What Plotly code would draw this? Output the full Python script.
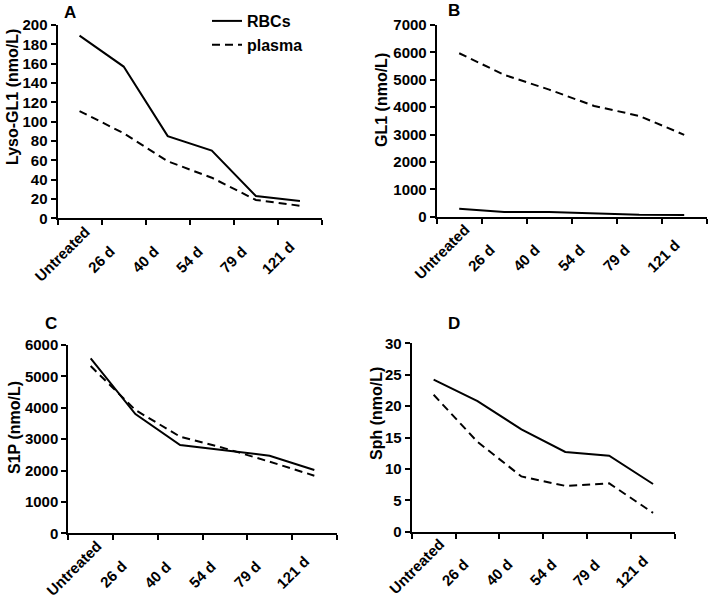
import plotly.graph_objects as go

W, H = 709, 608

categories = ["Untreated", "26 d", "40 d", "54 d", "79 d", "121 d"]

lyso_rbc = [189, 157, 85, 70, 23, 18]
lyso_plasma = [111, 88, 59, 42, 19, 13]

gl1_rbc = [292, 170, 170, 122, 73, 61]
gl1_plasma = [5968, 5180, 4640, 4044, 3680, 2990]

s1p_rbc = [5573, 3800, 2813, 2633, 2473, 2017]
s1p_plasma = [5329, 3928, 3079, 2707, 2282, 1836]

sph_rbc = [24.2, 20.8, 16.3, 12.7, 12.1, 7.6]
sph_plasma = [21.8, 14.3, 8.8, 7.3, 7.7, 3.0]

panels = [
    (lyso_rbc, lyso_plasma, [0, 200], 20, (57.5, 322), (25, 218.3), "A", "Lyso-GL1 (nmo/L)", (70, 12), (13, 97)),
    (gl1_rbc, gl1_plasma, [0, 7000], 1000, (436.7, 706.7), (25, 216.7), "B", "GL1 (nmo/L)", (454, 10), (381, 100)),
    (s1p_rbc, s1p_plasma, [0, 6000], 1000, (68.3, 336.7), (345, 533.3), "C", "S1P (nmo/L)", (51, 323), (14, 428)),
    (sph_rbc, sph_plasma, [0, 30], 5, (411.7, 675), (343.3, 531.7), "D", "Sph (nmo/L)", (454, 323), (376, 413)),
]

FONT = "Liberation Sans, Arial, sans-serif"
FS = 15
TICKFONT = dict(family=FONT, size=FS, color="black", weight="bold")

# approximate Arial-bold advance widths (em) to place rotated labels Excel-style
_EM = {"U": .722, "n": .611, "t": .333, "r": .389, "e": .556, "a": .556, "d": .611, " ": .278}


def text_w(s):
    return sum(_EM.get(ch, .556) for ch in s) * FS


fig = go.Figure()
annotations = []
for i, (rbc, pl, yr, dt, xd, yd, ttl, ytl, tpos, ypos) in enumerate(panels):
    n = "" if i == 0 else str(i + 1)
    xa = "x" + n
    ya = "y" + n
    fig.add_trace(go.Scatter(x=categories, y=rbc, mode="lines", name="RBCs",
                             line=dict(color="black", width=2), xaxis=xa, yaxis=ya,
                             showlegend=(i == 0)))
    fig.add_trace(go.Scatter(x=categories, y=pl, mode="lines", name="plasma",
                             line=dict(color="black", width=2, dash="8px,5px"), xaxis=xa, yaxis=ya,
                             showlegend=(i == 0)))
    axx = dict(domain=[xd[0] / W, xd[1] / W], anchor=ya, type="category", automargin=False,
               range=[-0.5, 5.5], showline=True, linecolor="black", linewidth=2,
               ticks="outside", tickson="boundaries", ticklen=5, tickwidth=2, tickcolor="black",
               showticklabels=False, showgrid=False, zeroline=False,
               categoryorder="array", categoryarray=categories)
    axy = dict(domain=[1 - yd[1] / H, 1 - yd[0] / H], anchor=xa, range=yr, dtick=dt, automargin=False,
               showline=True, linecolor="black", linewidth=2, ticks="outside", ticklen=5,
               tickwidth=2, tickcolor="black", showgrid=False, zeroline=False,
               tickfont=TICKFONT)
    fig.layout["xaxis" + n] = axx
    fig.layout["yaxis" + n] = axy
    # rotated category labels; pivot ~30% along the text, as in the original layout
    for c in categories:
        w = text_w(c)
        k = 0.141 * w
        annotations.append(dict(text=c, x=c, xref=xa, y=1 - yd[1] / H, yref="paper",
                                xshift=-27 + k, yshift=-(45 - k), textangle=-45, showarrow=False,
                                xanchor="center", yanchor="middle", font=TICKFONT))
    annotations.append(dict(text=ttl, x=tpos[0] / W, y=1 - tpos[1] / H, xref="paper", yref="paper",
                            showarrow=False, xanchor="center", yanchor="middle",
                            font=dict(family=FONT, size=17, color="black", weight="bold")))
    annotations.append(dict(text=ytl, x=ypos[0] / W, y=1 - ypos[1] / H, xref="paper", yref="paper",
                            showarrow=False, xanchor="center", yanchor="middle", textangle=-90,
                            font=dict(family=FONT, size=16, color="black", weight="bold")))

fig.update_layout(
    width=W, height=H, margin=dict(l=0, r=0, t=0, b=0, autoexpand=False),
    paper_bgcolor="white", plot_bgcolor="white",
    annotations=annotations,
    legend=dict(x=207 / W, y=1 - 4 / H, xanchor="left", yanchor="top",
                bgcolor="rgba(0,0,0,0)", tracegroupgap=0,
                font=dict(family=FONT, size=16, color="black", weight="bold")),
)

fig.write_html("out.html", config={"responsive": False, "displayModeBar": False},
               post_script="document.body.style.margin='0';document.body.style.overflow='hidden';")
